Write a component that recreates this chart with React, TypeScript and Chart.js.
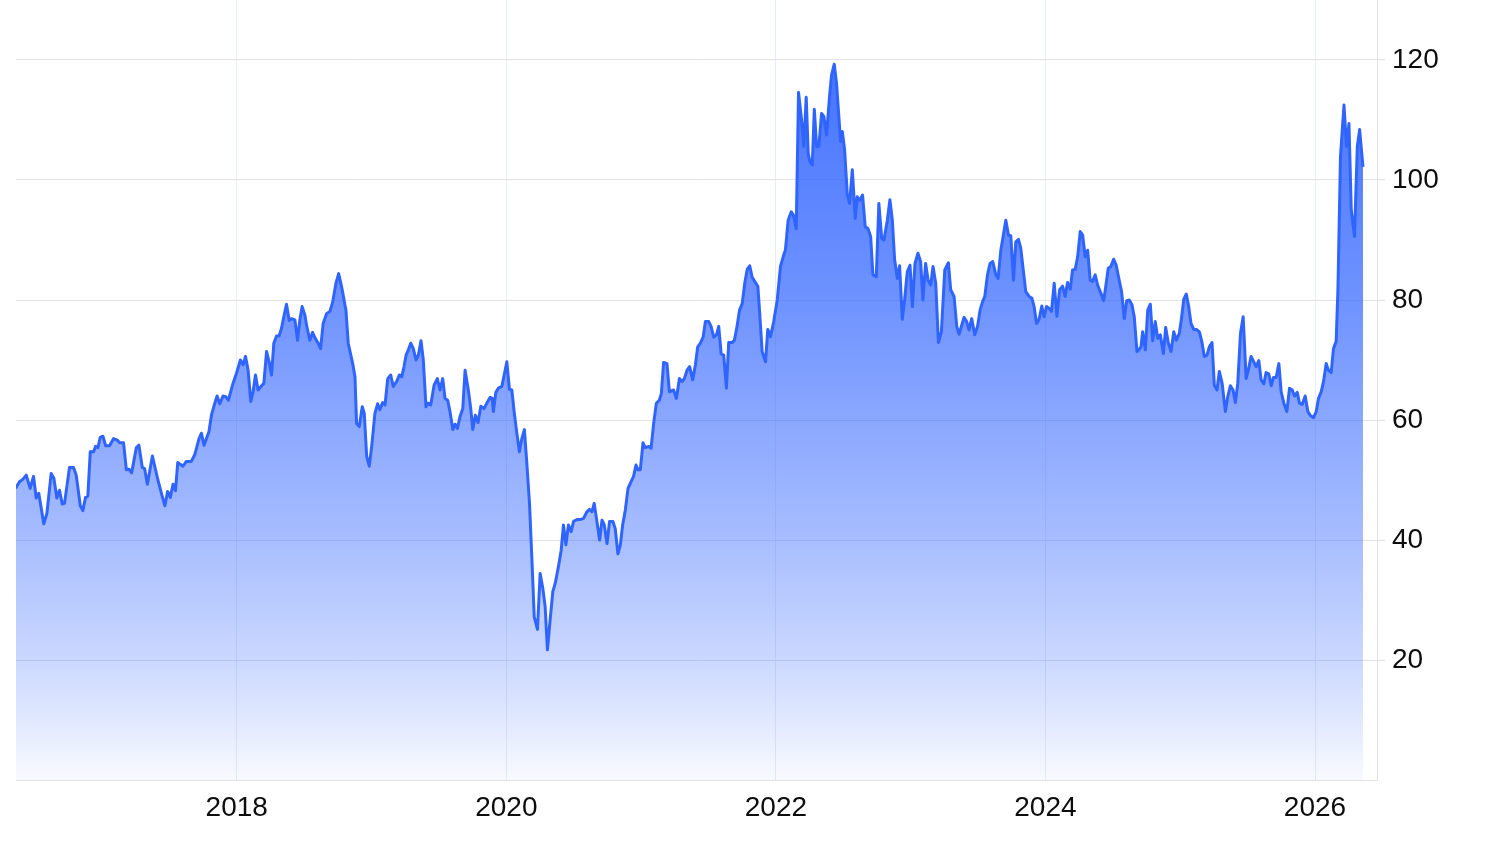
import { useEffect, useRef } from "react";
import Chart from "chart.js/auto";

// weekly closes, dates as decimal years
const dates = [
  2016.358, 2016.388, 2016.412, 2016.438, 2016.467, 2016.492, 2016.512, 2016.531, 2016.568, 2016.591,
  2016.623, 2016.643, 2016.665, 2016.685, 2016.705, 2016.722, 2016.759, 2016.789, 2016.809, 2016.839,
  2016.858, 2016.878, 2016.895, 2016.913, 2016.938, 2016.952, 2016.970, 2016.987, 2017.007, 2017.027,
  2017.056, 2017.086, 2017.111, 2017.131, 2017.160, 2017.181, 2017.200, 2017.220, 2017.255, 2017.274,
  2017.299, 2017.316, 2017.337, 2017.374, 2017.415, 2017.448, 2017.467, 2017.487, 2017.507, 2017.527,
  2017.545, 2017.562, 2017.601, 2017.626, 2017.663, 2017.688, 2017.720, 2017.738, 2017.757, 2017.794,
  2017.812, 2017.837, 2017.854, 2017.874, 2017.898, 2017.918, 2017.938, 2017.972, 2017.998, 2018.027,
  2018.047, 2018.065, 2018.084, 2018.104, 2018.121, 2018.139, 2018.158, 2018.184, 2018.201, 2018.221,
  2018.240, 2018.258, 2018.275, 2018.295, 2018.314, 2018.332, 2018.349, 2018.369, 2018.389, 2018.406,
  2018.431, 2018.451, 2018.468, 2018.485, 2018.505, 2018.522, 2018.542, 2018.562, 2018.582, 2018.604,
  2018.622, 2018.641, 2018.666, 2018.691, 2018.711, 2018.736, 2018.756, 2018.778, 2018.810, 2018.827,
  2018.860, 2018.877, 2018.889, 2018.909, 2018.931, 2018.946, 2018.964, 2018.983, 2019.001, 2019.025,
  2019.045, 2019.062, 2019.082, 2019.100, 2019.120, 2019.142, 2019.161, 2019.186, 2019.206, 2019.224,
  2019.241, 2019.256, 2019.273, 2019.291, 2019.310, 2019.330, 2019.347, 2019.367, 2019.384, 2019.404,
  2019.421, 2019.439, 2019.464, 2019.488, 2019.508, 2019.528, 2019.545, 2019.565, 2019.582, 2019.603,
  2019.620, 2019.637, 2019.657, 2019.677, 2019.694, 2019.718, 2019.736, 2019.751, 2019.770, 2019.790,
  2019.811, 2019.835, 2019.855, 2019.880, 2019.895, 2019.904, 2019.922, 2019.941, 2019.967, 2019.984,
  2020.004, 2020.023, 2020.041, 2020.058, 2020.078, 2020.097, 2020.115, 2020.134, 2020.152, 2020.172,
  2020.189, 2020.207, 2020.231, 2020.251, 2020.271, 2020.288, 2020.305, 2020.325, 2020.345, 2020.363,
  2020.387, 2020.407, 2020.424, 2020.442, 2020.461, 2020.481, 2020.499, 2020.524, 2020.548, 2020.573,
  2020.598, 2020.617, 2020.635, 2020.652, 2020.672, 2020.692, 2020.710, 2020.727, 2020.747, 2020.766,
  2020.791, 2020.808, 2020.828, 2020.846, 2020.863, 2020.883, 2020.903, 2020.925, 2020.944, 2020.962,
  2020.977, 2020.994, 2021.014, 2021.031, 2021.056, 2021.074, 2021.093, 2021.113, 2021.135, 2021.150,
  2021.167, 2021.192, 2021.210, 2021.241, 2021.262, 2021.284, 2021.304, 2021.321, 2021.341, 2021.360,
  2021.383, 2021.403, 2021.420, 2021.440, 2021.460, 2021.477, 2021.502, 2021.519, 2021.539, 2021.559,
  2021.576, 2021.594, 2021.613, 2021.633, 2021.650, 2021.675, 2021.692, 2021.712, 2021.730, 2021.750,
  2021.769, 2021.787, 2021.806, 2021.824, 2021.843, 2021.866, 2021.880, 2021.898, 2021.923, 2021.940,
  2021.960, 2021.984, 2022.010, 2022.034, 2022.054, 2022.071, 2022.091, 2022.114, 2022.129, 2022.151,
  2022.168, 2022.188, 2022.207, 2022.225, 2022.240, 2022.252, 2022.270, 2022.285, 2022.302, 2022.319,
  2022.339, 2022.356, 2022.376, 2022.398, 2022.413, 2022.433, 2022.450, 2022.467, 2022.480, 2022.493,
  2022.510, 2022.530, 2022.547, 2022.567, 2022.589, 2022.604, 2022.623, 2022.643, 2022.663, 2022.683,
  2022.703, 2022.720, 2022.745, 2022.764, 2022.785, 2022.802, 2022.827, 2022.846, 2022.864, 2022.881,
  2022.901, 2022.918, 2022.938, 2022.955, 2022.975, 2022.995, 2023.013, 2023.032, 2023.054, 2023.074,
  2023.091, 2023.111, 2023.129, 2023.149, 2023.166, 2023.186, 2023.206, 2023.228, 2023.253, 2023.280,
  2023.297, 2023.322, 2023.342, 2023.359, 2023.379, 2023.396, 2023.416, 2023.433, 2023.453, 2023.475,
  2023.496, 2023.515, 2023.533, 2023.550, 2023.570, 2023.589, 2023.609, 2023.632, 2023.649, 2023.669,
  2023.686, 2023.706, 2023.726, 2023.743, 2023.763, 2023.780, 2023.800, 2023.817, 2023.837, 2023.854,
  2023.879, 2023.899, 2023.916, 2023.934, 2023.953, 2023.973, 2023.990, 2024.008, 2024.028, 2024.045,
  2024.065, 2024.085, 2024.105, 2024.127, 2024.146, 2024.164, 2024.184, 2024.201, 2024.221, 2024.239,
  2024.258, 2024.276, 2024.295, 2024.313, 2024.332, 2024.350, 2024.369, 2024.387, 2024.412, 2024.432,
  2024.449, 2024.466, 2024.486, 2024.506, 2024.525, 2024.548, 2024.565, 2024.585, 2024.603, 2024.622,
  2024.642, 2024.659, 2024.679, 2024.696, 2024.709, 2024.721, 2024.741, 2024.759, 2024.778, 2024.796,
  2024.815, 2024.833, 2024.852, 2024.875, 2024.892, 2024.912, 2024.932, 2024.952, 2024.971, 2024.993,
  2025.011, 2025.026, 2025.045, 2025.063, 2025.080, 2025.100, 2025.120, 2025.142, 2025.160, 2025.179,
  2025.199, 2025.216, 2025.236, 2025.253, 2025.273, 2025.290, 2025.311, 2025.335, 2025.353, 2025.372,
  2025.392, 2025.409, 2025.427, 2025.447, 2025.467, 2025.489, 2025.506, 2025.526, 2025.546, 2025.563,
  2025.583, 2025.600, 2025.620, 2025.637, 2025.657, 2025.675, 2025.692, 2025.712, 2025.732, 2025.749,
  2025.769, 2025.791, 2025.811, 2025.831, 2025.848, 2025.868, 2025.885, 2025.905, 2025.927, 2025.947,
  2025.967, 2025.989, 2026.009, 2026.026, 2026.046, 2026.063, 2026.083, 2026.100, 2026.120, 2026.137,
  2026.157, 2026.170, 2026.189, 2026.215, 2026.234, 2026.252, 2026.269, 2026.293, 2026.314, 2026.331,
  2026.356,
];

const prices = [
  48.6, 49.7, 50.1, 50.8, 48.6, 50.6, 47.0, 47.8, 42.7, 44.4,
  51.1, 50.3, 47.0, 48.3, 46.0, 46.1, 52.1, 52.1, 50.8, 45.7,
  44.9, 47.1, 47.3, 54.7, 54.7, 55.6, 55.4, 57.1, 57.3, 55.7,
  55.7, 56.9, 56.7, 56.2, 56.2, 51.7, 51.8, 51.2, 55.4, 55.8,
  52.1, 51.9, 49.3, 54.0, 50.0, 47.2, 45.7, 48.1, 47.1, 49.3,
  48.2, 52.9, 52.3, 53.1, 53.1, 54.2, 56.9, 57.8, 55.8, 58.1,
  60.8, 62.8, 64.0, 62.7, 64.0, 63.9, 63.3, 66.1, 67.8, 70.0,
  69.2, 70.6, 68.3, 63.1, 64.7, 67.5, 65.0, 65.7, 66.1, 71.4,
  69.7, 67.5, 72.8, 74.0, 74.0, 75.3, 77.2, 79.3, 76.6, 76.9,
  76.7, 73.3, 76.7, 78.9, 77.5, 75.3, 73.3, 74.6, 73.6, 72.8,
  71.9, 76.1, 77.7, 78.1, 79.6, 82.8, 84.4, 82.2, 78.3, 72.8,
  69.4, 67.2, 59.4, 58.9, 62.2, 61.1, 53.9, 52.3, 55.6, 61.1,
  62.7, 61.7, 62.9, 62.5, 66.9, 67.5, 65.6, 66.4, 67.5, 67.2,
  68.9, 70.8, 71.7, 72.8, 71.9, 70.0, 70.8, 73.2, 70.0, 62.2,
  62.8, 62.5, 65.8, 66.9, 65.0, 66.9, 63.6, 63.3, 61.4, 58.4,
  59.3, 58.6, 60.6, 61.9, 68.3, 65.0, 61.9, 58.4, 60.8, 59.6,
  62.3, 61.9, 62.8, 63.8, 63.6, 61.4, 64.6, 65.3, 65.6, 67.5,
  69.7, 65.1, 65.0, 61.4, 57.8, 54.7, 56.9, 58.4, 52.8, 46.1,
  37.2, 27.2, 25.1, 34.4, 31.9, 28.9, 21.7, 26.7, 31.4, 32.8,
  35.6, 38.3, 42.5, 39.2, 42.5, 41.4, 43.1, 43.4, 43.4, 43.6,
  44.7, 45.1, 44.7, 46.1, 43.1, 40.0, 43.3, 42.5, 39.4, 43.1,
  43.1, 41.9, 37.7, 39.2, 42.5, 45.0, 48.6, 49.7, 50.6, 52.5,
  51.7, 51.7, 56.2, 55.4, 55.6, 55.3, 59.4, 62.8, 63.3, 64.4,
  69.6, 69.4, 64.7, 65.0, 63.6, 66.9, 66.4, 66.9, 68.3, 68.9,
  66.7, 69.2, 72.2, 72.8, 73.8, 76.4, 76.4, 75.6, 73.8, 74.2,
  75.6, 71.0, 70.8, 65.3, 72.9, 72.9, 73.3, 75.6, 78.3, 79.4,
  82.8, 85.1, 85.7, 83.8, 83.1, 82.3, 77.8, 71.4, 69.7, 75.1,
  73.9, 76.4, 80.0, 85.6, 87.2, 88.4, 93.3, 94.7, 94.2, 91.9,
  114.6, 110.6, 105.6, 113.8, 104.4, 103.1, 102.5, 111.8, 105.6, 105.6,
  111.1, 110.6, 107.5, 113.9, 117.5, 119.3, 116.1, 110.6, 106.4, 108.1,
  105.0, 97.5, 96.1, 101.7, 93.6, 97.2, 96.6, 97.5, 92.2, 91.9,
  90.6, 84.2, 83.9, 96.1, 90.3, 90.0, 93.3, 96.7, 93.3, 86.7,
  83.6, 85.7, 76.8, 80.0, 84.7, 85.8, 78.9, 86.1, 87.8, 86.4,
  80.0, 86.1, 83.3, 82.5, 85.6, 82.8, 72.9, 74.7, 85.0, 86.2,
  81.7, 80.6, 75.6, 74.3, 75.8, 77.1, 76.4, 75.0, 76.9, 74.2,
  75.6, 78.3, 79.7, 80.6, 84.2, 86.1, 86.4, 84.2, 83.6, 88.3,
  90.6, 93.3, 90.8, 90.7, 83.3, 89.7, 90.1, 88.6, 84.7, 81.4,
  80.6, 80.3, 78.9, 76.1, 76.8, 79.0, 77.2, 78.9, 78.6, 78.1,
  82.8, 77.3, 81.7, 82.3, 80.6, 82.9, 81.8, 85.0, 85.1, 87.2,
  91.4, 90.8, 87.2, 88.3, 83.3, 83.1, 84.2, 82.5, 81.1, 79.9,
  82.5, 85.3, 85.6, 86.8, 85.8, 83.2, 81.4, 76.9, 79.9, 80.0,
  79.2, 77.2, 71.4, 71.8, 72.2, 74.7, 71.7, 78.3, 79.3, 73.2,
  76.4, 73.6, 74.2, 71.1, 75.4, 72.8, 71.4, 74.7, 73.3, 74.4,
  77.2, 80.1, 81.0, 78.9, 76.1, 75.1, 75.1, 74.7, 73.1, 70.6,
  70.8, 72.2, 72.9, 65.8, 65.0, 68.1, 66.1, 61.4, 63.9, 65.7,
  65.0, 62.9, 66.1, 74.4, 77.2, 66.9, 68.4, 70.6, 69.7, 68.9,
  69.9, 66.7, 66.0, 67.9, 67.7, 65.7, 67.1, 67.1, 69.4, 64.7,
  62.8, 61.4, 65.3, 65.0, 64.0, 64.6, 62.8, 62.6, 64.0, 61.4,
  60.7, 60.4, 61.4, 63.6, 64.7, 66.4, 69.4, 68.3, 67.9, 71.9,
  73.1, 81.7, 103.9, 112.5, 105.6, 109.4, 95.0, 90.6, 105.6, 108.4,
  102.2,
];

const yearTicks = [2018, 2020, 2022, 2024, 2026];
const priceTicks = [20, 40, 60, 80, 100, 120];

const FONT = "'Liberation Sans', Arial, Helvetica, sans-serif";

const PriceChart = () => {
  const canvasRef = useRef<HTMLCanvasElement | null>(null);
  const chartRef = useRef<Chart | null>(null);

  useEffect(() => {
    if (!canvasRef.current) return;
    if (chartRef.current) chartRef.current.destroy();

    const points = dates.map((d, i) => ({ x: d, y: prices[i] }));

    chartRef.current = new Chart(canvasRef.current, {
      type: "line",
      data: {
        datasets: [
          {
            data: points,
            borderColor: "#2f64ff",
            borderWidth: 3,
            borderJoinStyle: "round",
            pointRadius: 0,
            tension: 0,
            fill: "origin",
            // vertical fade from blue to white
            backgroundColor: (ctx: any) => {
              const { chart } = ctx;
              const area = chart.chartArea;
              if (!area) return "rgba(51, 102, 255, 0.5)";
              const g = chart.ctx.createLinearGradient(0, area.top, 0, area.bottom);
              g.addColorStop(0, "rgba(51, 102, 255, 0.95)");
              g.addColorStop(0.14, "rgba(51, 102, 255, 0.87)");
              g.addColorStop(0.385, "rgba(51, 102, 255, 0.71)");
              g.addColorStop(0.54, "rgba(51, 102, 255, 0.57)");
              g.addColorStop(0.69, "rgba(51, 102, 255, 0.43)");
              g.addColorStop(0.846, "rgba(51, 102, 255, 0.26)");
              g.addColorStop(1, "rgba(51, 102, 255, 0.03)");
              return g;
            },
          },
        ],
      },
      options: {
        responsive: true,
        maintainAspectRatio: false,
        animation: false,
        layout: { padding: { left: 16, top: 0, right: 0, bottom: 0 } },
        plugins: {
          legend: { display: false },
          tooltip: { enabled: false },
        },
        scales: {
          x: {
            type: "linear",
            position: "bottom",
            min: 2016.362,
            max: 2026.46,
            afterBuildTicks: (scale: any) => {
              scale.ticks = yearTicks.map((value) => ({ value }));
            },
            afterFit: (scale: any) => {
              scale.height = 64;
              scale.paddingLeft = 0;
              scale.paddingRight = 0;
            },
            grid: { color: "#e8ecf3", drawTicks: false },
            border: { display: true, color: "#e2e2e2" },
            ticks: {
              padding: 11,
              color: "#0d0d0d",
              font: { family: FONT, size: 28 },
              maxRotation: 0,
              callback: (v: any) => String(v),
            },
          },
          y: {
            type: "linear",
            position: "right",
            min: 0,
            max: 130,
            afterBuildTicks: (scale: any) => {
              scale.ticks = priceTicks.map((value) => ({ value }));
            },
            afterFit: (scale: any) => {
              scale.width = 123;
              scale.paddingTop = 0;
              scale.paddingBottom = 0;
            },
            grid: { color: "#e2e2e2", tickLength: 8 },
            border: { display: true, color: "#e2e2e2" },
            ticks: {
              padding: 7,
              color: "#0d0d0d",
              font: { family: FONT, size: 28 },
              callback: (v: any) => String(v),
            },
          },
        },
      },
    });

    return () => {
      if (chartRef.current) {
        chartRef.current.destroy();
        chartRef.current = null;
      }
    };
  }, []);

  return (
    <div style={{ position: "absolute", left: 0, top: 0, width: 1500, height: 844, background: "#fff" }}>
      <canvas ref={canvasRef}></canvas>
    </div>
  );
};

export default function App() {
  return <PriceChart />;
}
